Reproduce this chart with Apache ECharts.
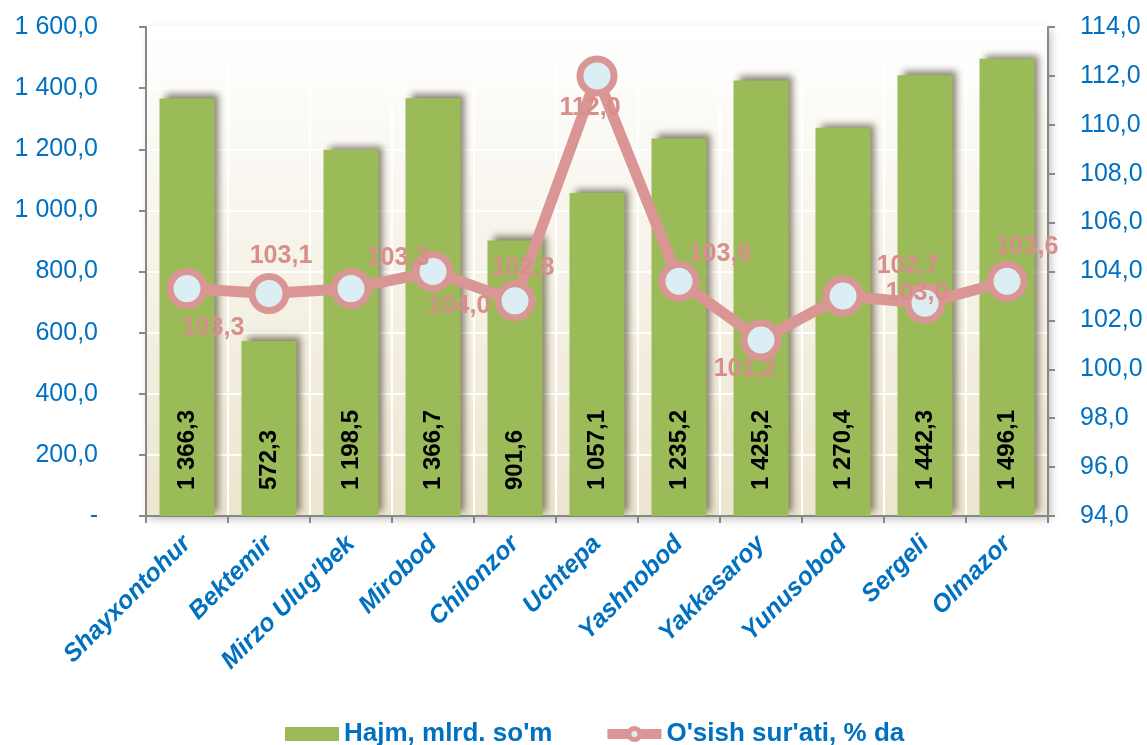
<!DOCTYPE html>
<html>
<head>
<meta charset="utf-8">
<script src="https://cdn.jsdelivr.net/npm/echarts@6/dist/echarts.min.js"></script>
<style>
  html, body { margin: 0; padding: 0; background: #fff; }
  #chart { width: 1147px; height: 745px; }
</style>
</head>
<body>
<div id="chart"></div>
<script>
// tumanlar
var tumanlar = ['Shayxontohur', 'Bektemir', "Mirzo Ulug'bek", 'Mirobod', 'Chilonzor', 'Uchtepa',
    'Yashnobod', 'Yakkasaroy', 'Yunusobod', 'Sergeli', 'Olmazor'];
// hajm, mlrd. so'm
var hajm = [1366.3, 572.3, 1198.5, 1366.7, 901.6, 1057.1, 1235.2, 1425.2, 1270.4, 1442.3, 1496.1];
// o'sish sur'ati, %
var osish = [103.3, 103.1, 103.3, 104.0, 102.8, 112.0, 103.6, 101.2, 103.0, 102.7, 103.6];
// yorliq siljishi (label offset) - original chartda yorliqlar tartibsiz joylashgan
var yorliqSiljish = [[26, 39], [12, -37], [47, -31], [26, 35], [8, -33], [-7, 32],
    [41, -27], [-16, 29], [74, -3], [-17, -37], [20, -34]];

var blue = '#0070c0';
var pink = '#d99694';

function fmt(v, d) {
    var s = v.toFixed(d).split('.');
    var int = s[0].replace(/\B(?=(\d{3})+(?!\d))/g, ' ');
    return int + ',' + s[1];
}

var lineData = [];
for (var i = 0; i < osish.length; i++) {
    lineData.push({
        value: osish[i],
        label: { offset: yorliqSiljish[i] }
    });
}

var myChart = echarts.init(document.getElementById('chart'));
var option = {
    animation: false,
    textStyle: { fontFamily: 'Liberation Sans, Arial, sans-serif' },
    grid: {
        left: 146, right: 99, top: 27, bottom: 229,
        show: true,
        borderWidth: 0,
        shadowColor: 'rgba(0,0,0,0.25)',
        shadowBlur: 8,
        shadowOffsetX: 3,
        shadowOffsetY: 3,
        backgroundColor: new echarts.graphic.LinearGradient(0, 0, 0, 1, [
            { offset: 0, color: '#ffffff' },
            { offset: 1, color: '#ece5cf' }
        ])
    },
    legend: {
        top: 716,
        left: 280,
        itemGap: 50,
        itemWidth: 54,
        itemHeight: 14,
        textStyle: { color: blue, fontSize: 26, fontWeight: 'bold' },
        data: [
            { name: "Hajm, mlrd. so'm", icon: 'rect' },
            {
                name: "O'sish sur'ati, % da",
                lineStyle: { width: 10, color: pink },
                itemStyle: { color: '#dbeef4', borderColor: pink, borderWidth: 5 }
            }
        ]
    },
    xAxis: {
        type: 'category',
        data: tumanlar,
        boundaryGap: true,
        axisLine: { lineStyle: { color: '#888', width: 2 } },
        axisTick: { show: true, length: 7, lineStyle: { color: '#888', width: 2 } },
        splitLine: { show: true, lineStyle: { color: '#ffffff', width: 2 } },
        axisLabel: {
            rotate: 45,
            interval: 0,
            color: blue,
            fontSize: 25,
            fontWeight: 'bold',
            fontStyle: 'italic',
            margin: 24
        }
    },
    yAxis: [{
        type: 'value',
        min: 0, max: 1600, interval: 200,
        axisLine: { show: true, lineStyle: { color: '#888', width: 2 } },
        axisTick: { show: true, length: 7, lineStyle: { color: '#888', width: 2 } },
        splitLine: { show: true, lineStyle: { color: '#ffffff', width: 2 } },
        axisLabel: {
            color: blue, fontSize: 25, margin: 48,
            formatter: function (v) { return v === 0 ? '-' : fmt(v, 1); }
        }
    }, {
        type: 'value',
        min: 94, max: 114, interval: 2,
        axisLine: { show: true, lineStyle: { color: '#888', width: 2 } },
        axisTick: { show: true, length: 7, lineStyle: { color: '#888', width: 2 } },
        splitLine: { show: false },
        axisLabel: {
            color: blue, fontSize: 25, margin: 32,
            formatter: function (v) { return fmt(v, 1); }
        }
    }],
    series: [{
        name: "Hajm, mlrd. so'm",
        type: 'bar',
        data: hajm,
        barWidth: '67%',
        itemStyle: {
            color: '#9bbb59',
            shadowColor: 'rgba(60,50,30,0.6)',
            shadowBlur: 7,
            shadowOffsetX: 5,
            shadowOffsetY: -4
        },
        label: {
            show: true,
            position: 'insideBottom',
            rotate: 90,
            align: 'left',
            verticalAlign: 'middle',
            distance: 26,
            color: '#000',
            fontSize: 24,
            fontWeight: 'bold',
            formatter: function (p) { return fmt(p.value, 1); }
        }
    }, {
        name: "O'sish sur'ati, % da",
        type: 'line',
        yAxisIndex: 1,
        data: lineData,
        symbol: 'circle',
        symbolSize: 34,
        lineStyle: { color: pink, width: 11 },
        itemStyle: { color: '#dbeef4', borderColor: pink, borderWidth: 7 },
        label: {
            show: true,
            position: 'inside',
            color: '#d88f8c',
            fontSize: 25,
            fontWeight: 'bold',
            formatter: function (p) { return fmt(p.value, 1); }
        },
        z: 5
    }]
};
myChart.setOption(option);
</script>
</body>
</html>
